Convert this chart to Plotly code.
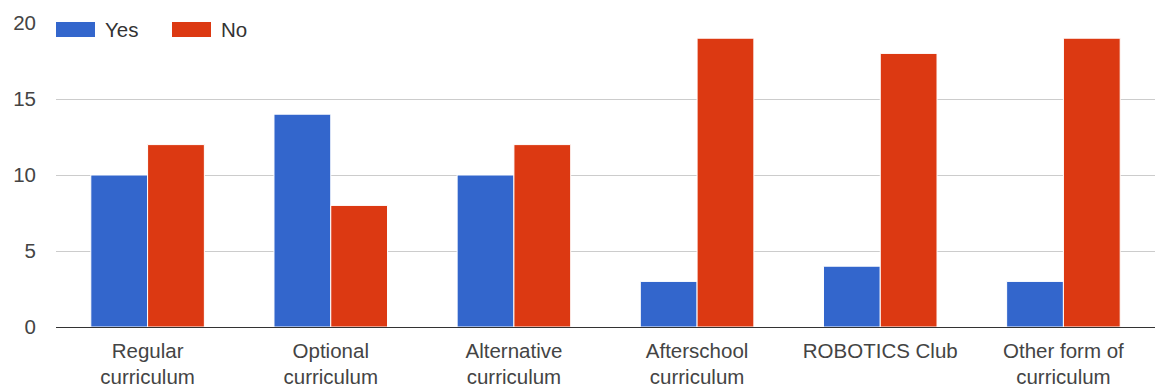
import plotly.graph_objects as go

categories = ["Regular<br>curriculum", "Optional<br>curriculum", "Alternative<br>curriculum",
              "Afterschool<br>curriculum", "ROBOTICS Club", "Other form of<br>curriculum"]
yes_values = [10, 14, 10, 3, 4, 3]
no_values = [12, 8, 12, 19, 18, 19]
series_names = ["Yes", "No"]
series_colors = ["#3366cc", "#dc3912"]

W, H = 1155, 386
M_L, M_R, M_T, M_B = 56, 0, 23, 59
PW = W - M_L - M_R
PH = H - M_T - M_B

fig = go.Figure()
for name, vals, col in zip(series_names, [yes_values, no_values], series_colors):
    fig.add_trace(go.Bar(x=categories, y=vals, name=name, marker_color=col,
                         marker_line=dict(color="white", width=1), showlegend=False))

# Legend swatches and labels, placed in pixel offsets from the plot's top-left
def px_x(p):
    return (p - M_L) / PW

def px_y(p):
    return 1 - (p - M_T) / PH

swatches = [(56, 95, 104), (172, 211, 220)]
for (x0, x1, tx), name, col in zip(swatches, series_names, series_colors):
    fig.add_shape(type="rect", xref="paper", yref="paper",
                  x0=px_x(x0), x1=px_x(x1), y0=px_y(37), y1=px_y(22),
                  fillcolor=col, line=dict(width=0), layer="above")
    fig.add_annotation(text=name, xref="paper", yref="paper", x=px_x(tx), y=px_y(30),
                       xanchor="left", yanchor="middle", showarrow=False,
                       font=dict(size=20.5, color="#333333"), bgcolor="white", borderpad=0)

fig.update_layout(
    width=W, height=H,
    margin=dict(l=M_L, r=M_R, t=M_T, b=M_B, autoexpand=False),
    barmode="group", bargap=0.38, bargroupgap=0.0,
    plot_bgcolor="white", paper_bgcolor="white",
    font=dict(family="Arial, Liberation Sans, sans-serif", size=20.5, color="#444444"),
    showlegend=False,
)
fig.update_yaxes(range=[0, 20], tickvals=[0, 5, 10, 15, 20], showgrid=True,
                 gridcolor="#cccccc", gridwidth=1, zeroline=False, showline=False,
                 ticks="", ticklabelstandoff=19, automargin=False, fixedrange=True)
fig.update_xaxes(showline=True, linecolor="#333333", linewidth=1, ticks="",
                 showgrid=False, tickfont=dict(size=20.5), ticklabelstandoff=5,
                 automargin=False, fixedrange=True)

fig.write_html("out.html")
